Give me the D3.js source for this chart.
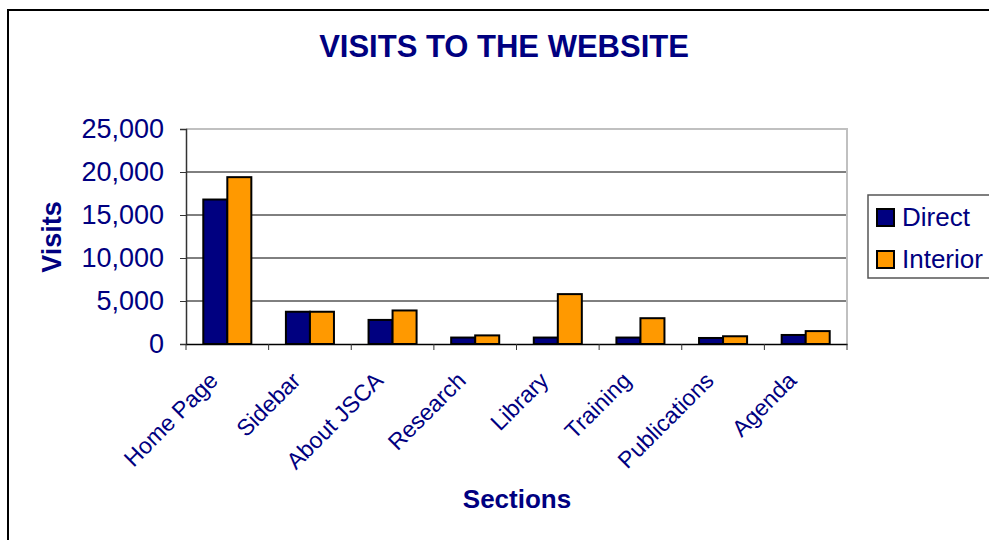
<!DOCTYPE html>
<html>
<head>
<meta charset="utf-8">
<script src="https://cdn.jsdelivr.net/npm/d3@7"></script>
<style>
  html, body { margin: 0; padding: 0; background: #fff; }
  svg { display: block; font-family: "Liberation Sans", Arial, sans-serif; }
</style>
</head>
<body>
<svg id="chart" width="989" height="540"></svg>
<script>
const categories = ["Home Page", "Sidebar", "About JSCA", "Research", "Library", "Training", "Publications", "Agenda"];
const seriesNames = ["Direct", "Interior"];
const directValues = [16800, 3750, 2800, 750, 750, 750, 700, 1050];
const interiorValues = [19400, 3750, 3900, 1000, 5800, 3000, 900, 1500];
const yTicks = [0, 5000, 10000, 15000, 20000, 25000];
const seriesColors = ["#000080", "#FF9900"];

const textColor = "#000080";
const svg = d3.select("#chart");

// outer frame
svg.append("rect").attr("x", 8).attr("y", 10).attr("width", 1000).attr("height", 600)
  .attr("fill", "#fff").attr("stroke", "#000").attr("stroke-width", 2);

const plot = { left: 186, top: 129, right: 847, bottom: 344 };

const x0 = d3.scaleBand().domain(categories).range([plot.left, plot.right]).padding(0);
const x1 = d3.scaleBand().domain(seriesNames).range([0, x0.bandwidth()]).paddingInner(0).paddingOuter(0.72);
const y = d3.scaleLinear().domain([0, 25000]).range([plot.bottom, plot.top]);

// gridlines
svg.append("g").selectAll("line").data(yTicks.filter(t => t > 0 && t < 25000)).join("line")
  .attr("x1", plot.left).attr("x2", plot.right)
  .attr("y1", d => y(d)).attr("y2", d => y(d))
  .attr("stroke", "#000").attr("stroke-width", 1);

// plot area top/right border (gray)
svg.append("path")
  .attr("d", `M${plot.left},${plot.top}H${plot.right}V${plot.bottom}`)
  .attr("fill", "none").attr("stroke", "#c0c0c0").attr("stroke-width", 2);

// bars
const data = categories.map((c, i) => ({ c, vals: [directValues[i], interiorValues[i]] }));
const groups = svg.append("g").selectAll("g").data(data).join("g")
  .attr("transform", d => `translate(${x0(d.c)},0)`);
groups.selectAll("rect").data(d => d.vals.map((v, j) => ({ s: seriesNames[j], v, j }))).join("rect")
  .attr("x", d => x1(d.s)).attr("width", x1.bandwidth())
  .attr("y", d => y(d.v)).attr("height", d => y(0) - y(d.v))
  .attr("fill", d => seriesColors[d.j]).attr("stroke", "#000").attr("stroke-width", 2);

// y axis
const yAxis = svg.append("g").attr("transform", `translate(${plot.left},0)`)
  .call(d3.axisLeft(y).tickValues(yTicks).tickFormat(d3.format(",")).tickSize(6).tickPadding(16));
yAxis.select(".domain").attr("stroke", "#333").attr("stroke-width", 1.5);
yAxis.selectAll(".tick line").attr("stroke", "#333");
yAxis.selectAll("text").attr("fill", textColor).style("font-size", "27px")
  .style("font-family", "'Liberation Sans', Arial, sans-serif");

// x axis
const xAxis = svg.append("g").attr("transform", `translate(0,${plot.bottom})`)
  .call(d3.axisBottom(x0).tickSize(0).tickFormat(""));
xAxis.select(".domain").attr("stroke", "#000").attr("stroke-width", 1.5);
xAxis.selectAll(".tick").remove();
const boundaries = categories.map(c => x0(c)).concat([plot.right]);
xAxis.selectAll("line.b").data(boundaries).join("line").attr("class", "b")
  .attr("x1", d => d).attr("x2", d => d).attr("y1", 0).attr("y2", 6)
  .attr("stroke", "#333").attr("stroke-width", 1);

// x category labels
svg.append("g").selectAll("text").data(categories).join("text")
  .attr("transform", d => {
    const cx = x0(d) + x0.bandwidth() / 2 - 8;
    return `translate(${cx},382) rotate(-45)`;
  })
  .attr("text-anchor", "end").attr("fill", textColor).style("font-size", "23px")
  .text(d => d);

// title
svg.append("text").attr("x", 504).attr("y", 57).attr("text-anchor", "middle")
  .attr("fill", textColor).style("font-size", "31px").style("font-weight", "bold")
  .text("VISITS TO THE WEBSITE");

// axis titles
svg.append("text").attr("transform", "translate(61,237) rotate(-90)").attr("text-anchor", "middle")
  .attr("fill", textColor).style("font-size", "27px").style("font-weight", "bold").text("Visits");
svg.append("text").attr("x", 517).attr("y", 508).attr("text-anchor", "middle")
  .attr("fill", textColor).style("font-size", "26px").style("font-weight", "bold").text("Sections");

// legend
const lg = svg.append("g");
lg.append("rect").attr("x", 868).attr("y", 195).attr("width", 130).attr("height", 83)
  .attr("fill", "#fff").attr("stroke", "#555").attr("stroke-width", 1.5);
const li = lg.selectAll("g.item").data(seriesNames).join("g").attr("class", "item")
  .attr("transform", (d, i) => `translate(877,${209 + i * 42})`);
li.append("rect").attr("width", 17).attr("height", 17)
  .attr("fill", (d, i) => seriesColors[i]).attr("stroke", "#000").attr("stroke-width", 2);
li.append("text").attr("x", 25).attr("y", 17).attr("fill", textColor)
  .style("font-size", "26px").text(d => d);
</script>
</body>
</html>
